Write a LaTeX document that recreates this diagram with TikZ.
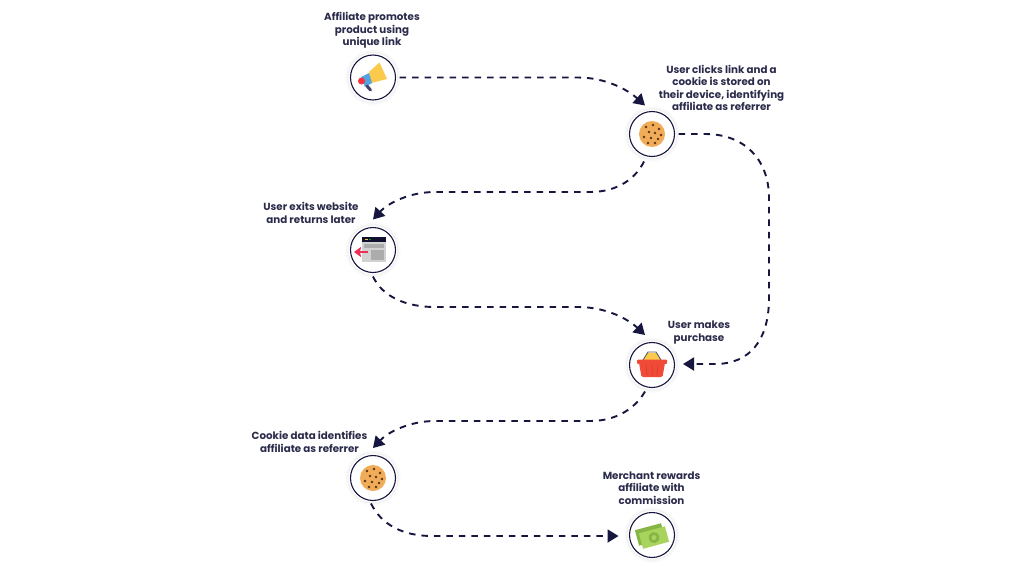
\documentclass[tikz,border=0pt]{standalone}
\usepackage{fontspec}
\setmainfont{Poppins}
\usetikzlibrary{arrows.meta,calc}
\definecolor{navy}{HTML}{16163F}
\definecolor{txt}{HTML}{2B2B4B}
\definecolor{cookie}{HTML}{F0AC58}
\definecolor{crumb}{HTML}{5A3418}
\definecolor{cash}{HTML}{A8D45E}
\definecolor{cashd}{HTML}{84B545}
\definecolor{redb}{HTML}{F04A38}
\definecolor{yel}{HTML}{FBC94B}
\definecolor{pinkr}{HTML}{EE2F55}
\tikzset{
  ring/.style={circle,draw=navy,line width=1.1pt,fill=white,minimum size=45pt,inner sep=0pt,outer sep=4pt},
  lbl/.style={align=center,text=txt,font=\fontsize{10.3}{12.4}\selectfont\bfseries,inner sep=0pt},
  conn/.style={draw=navy,line width=1.9pt,dash pattern=on 6.5pt off 6pt,-{Stealth[length=11pt,width=13pt,inset=0pt]}},
  crumbdot/.style={fill=crumb,draw=none}
}
\newcommand{\halo}[1]{%
  \foreach \r/\o in {28/.015,27/.02,26/.03,25/.04}{\fill[black!60,opacity=\o] (#1) circle (\r pt);}
  \fill[white] (#1) circle (24.5pt);}
\newcommand{\cookieicon}[1]{%
  \begin{scope}[shift={(#1)}]
    \fill[cookie] (0,0) circle (13pt);
    \foreach \a/\b in {-6/-7,1/-9,7/-5,-3/-2,3/-1,9/1,-8/3,-1/4,6/5,-4/9,3/9}{\fill[crumbdot] (\a,\b) circle (1.4pt);}
  \end{scope}}
\begin{document}
\begin{tikzpicture}[x=1pt,y=-1pt]
\useasboundingbox (0,0) rectangle (1024,576);
\fill[white] (0,0) rectangle (1024,576);
% halos
\halo{373,77.5}\halo{652,134}\halo{373,250}\halo{652,365}\halo{373,478}\halo{652,535}
% circles
\node[ring] (promote) at (373,77.5) {};
\node[ring] (click) at (652,134) {};
\node[ring] (exit) at (373,250) {};
\node[ring] (buy) at (652,365) {};
\node[ring] (data) at (373,478) {};
\node[ring] (pay) at (652,535) {};
% labels
\node[lbl] (t1) at (372,30.5) {Affiliate promotes\\product using\\unique link};
\node[lbl] (t2) at (721.5,88) {User clicks link and a\\cookie is stored on\\their device, identifying\\affiliate as referrer};
\node[lbl] (t3) at (311,213) {User exits website\\and returns later};
\node[lbl] (t4) at (699,332.5) {User makes\\purchase};
\node[lbl] (t5) at (309.5,442) {Cookie data identifies\\affiliate as referrer};
\node[lbl] (t6) at (651.5,488) {Merchant rewards\\affiliate with\\commission};
% connectors
\draw[conn] (promote.east) -- (578,77.5) .. controls (606,77.5) and (628,90) .. ($(click.north)+(-7,-2)$);
\draw[conn] (click.east) -- (705,134) .. controls (745,134) and (769,160) .. (769,198) -- (769,298) .. controls (769,340) and (750,364) .. (715,364) -- ($(buy.east)+(4.5,-1)$);
\draw[conn] ($(click.south)+(-8,1)$) .. controls (636,178) and (618,192) .. (590,192) -- (435,192) .. controls (410,192) and (388,203) .. ($(exit.north)+(0,-4)$);
\draw[conn] (exit.south) .. controls (382,296) and (405,307) .. (435,307) -- (578,307) .. controls (606,307) and (628,319) .. ($(buy.north)+(-7,-3.5)$);
\draw[conn] ($(buy.south)+(-7,0)$) .. controls (636,407) and (618,421) .. (590,421) -- (435,421) .. controls (410,421) and (388,432) .. ($(data.north)+(0,-3.5)$);
\draw[conn] ($(data.south)+(-2,-1)$) .. controls (381,524) and (402,536) .. (432,536) -- ($(pay.west)+(-7,1)$);
% megaphone
\fill[yel] (369,72) -- (379.5,62.5) -- (387,79) -- (371,83) -- cycle;
\fill[cyan!70!blue!70] (361,77) -- (369,73) -- (372,83) -- (365,87) -- cycle;
\fill[red!80!purple!80] (361.5,81) circle (3.5pt);
\draw[navy!80,line width=3pt,line cap=round] (367,86) -- (370.5,90);
% cookies
\cookieicon{652,134}
\cookieicon{373,478}
% browser
\fill[gray!35] (362,237) rectangle (386,262);
\fill[navy!75!black] (362,237) rectangle (386,241.5);
\fill[yel] (365,238.5) rectangle (368,240);
\fill[green!60!black] (369,238.5) rectangle (371,240);
\fill[gray!65] (364,244) rectangle (384,248);
\fill[gray!65] (371,250) rectangle (384,260);
\draw[draw=pinkr,line width=2.8pt,-{Stealth[length=7pt,width=10pt,inset=1pt]}] (368,252) -- (354,252);
% basket
\fill[yel] (643,361) -- (648,353) -- (656,353) -- (661,361) -- cycle;
\draw[gray!70!black,line width=.9pt] (643,360) -- (648,352) -- (656,352) -- (661,360);
\fill[redb,rounded corners=1pt] (637,359.5) rectangle (667,364);
\fill[redb,rounded corners=1.5pt] (639,363) -- (665,363) -- (662.5,377) -- (641.5,377) -- cycle;
\draw[red!60!black,opacity=.3,line width=.5pt] (646,365) -- (647,375) (652,365) -- (652,375) (658,365) -- (657,375);
% cash
\begin{scope}[shift={(652,536)},rotate=15]
  \fill[cashd] (-15,-10) rectangle (12,6);
  \fill[cash] (-12,-6) rectangle (15,10);
  \fill[cashd] (1.5,2) circle (5.5pt);
  \fill[cash] (1.5,2) circle (2.5pt);
\end{scope}
\end{tikzpicture}
\end{document}
